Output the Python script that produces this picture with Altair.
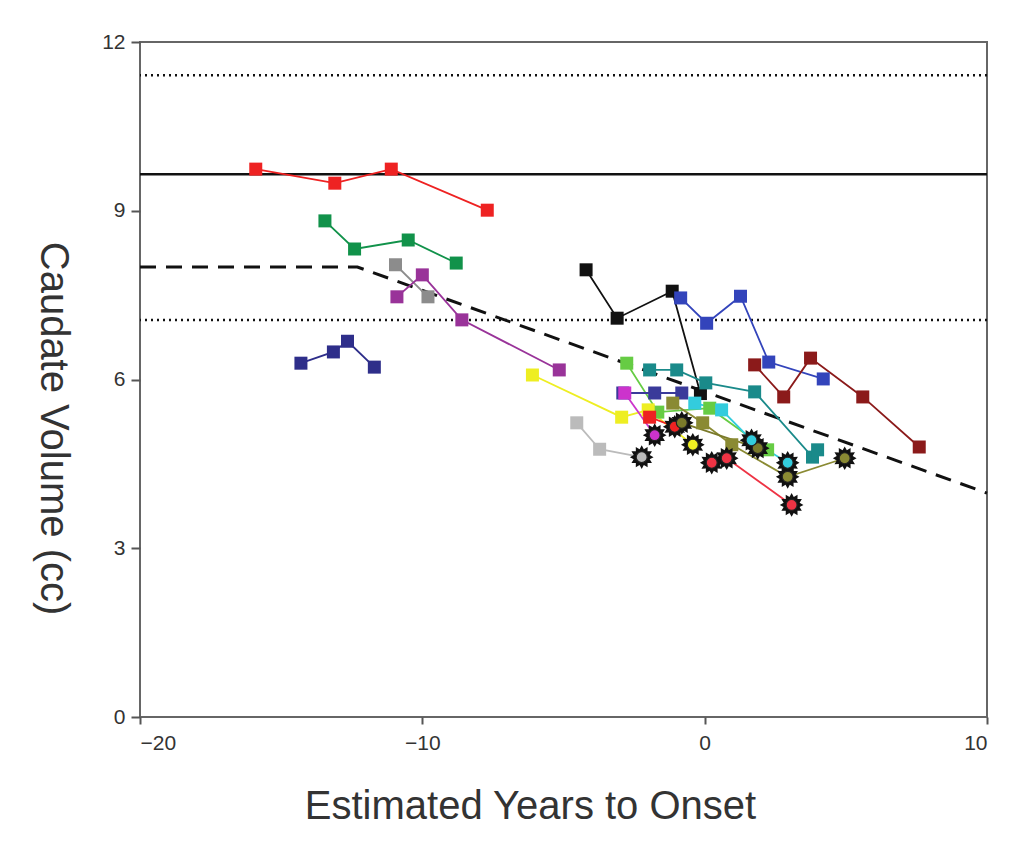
import math
import altair as alt
import pandas as pd

# ---------------- data ----------------
series_names = ["red_top", "green", "gray_dark", "purple", "navy", "black", "blue",
                "maroon", "teal", "lightgreen", "yellow", "lightgray", "navy2",
                "magenta", "red_a", "olive", "olive2", "cyan", "red_b"]
series_colors = ["#EE2222", "#11924A", "#8C8C8C", "#993399", "#2E2E8A", "#111111", "#3344BB",
                 "#8B1A1A", "#1A8A8A", "#66CC44", "#EEEE22", "#BBBBBB", "#3A3A9A",
                 "#CC33CC", "#EE2222", "#8A8A33", "#7A7A2A", "#33CCDD", "#EE3344"]
series_x = [
    [-15.9, -13.1, -11.1, -7.7],
    [-13.45, -12.4, -10.5, -8.8],
    [-10.95, -9.8],
    [-10.9, -10.0, -8.6, -5.15],
    [-14.3, -13.15, -12.65, -11.7],
    [-4.2, -3.1, -1.15, -0.15],
    [-0.85, 0.07, 1.27, 2.27, 4.2],
    [1.77, 2.8, 3.75, 5.6, 7.6],
    [-1.95, -0.99, 0.04, 1.77, 3.82, 4.0],
    [-2.76, -1.66, 0.18, 2.23],
    [-6.1, -2.94, -2.0, -0.42],
    [-4.53, -3.72, -2.23],
    [-2.9, -1.77, -0.81],
    [-2.83, -1.77],
    [-1.95, -1.06],
    [-1.13, -0.07, 0.96, 2.94, 4.96],
    [-0.81, 1.88],
    [-0.35, 0.6, 1.66, 2.94],
    [0.25, 0.78, 3.08],
]
series_y = [
    [9.74, 9.49, 9.74, 9.01],
    [8.82, 8.32, 8.48, 8.07],
    [8.04, 7.47],
    [7.47, 7.86, 7.06, 6.17],
    [6.29, 6.49, 6.68, 6.22],
    [7.95, 7.09, 7.57, 5.75],
    [7.45, 7.0, 7.48, 6.31, 6.01],
    [6.26, 5.69, 6.38, 5.69, 4.8],
    [6.17, 6.17, 5.94, 5.78, 4.62, 4.75],
    [6.29, 5.42, 5.49, 4.75],
    [6.08, 5.33, 5.46, 4.84],
    [5.23, 4.76, 4.62],
    [5.76, 5.76, 5.76],
    [5.76, 5.01],
    [5.33, 5.16],
    [5.58, 5.23, 4.84, 4.27, 4.6],
    [5.23, 4.78],
    [5.58, 5.46, 4.92, 4.52],
    [4.52, 4.6, 3.77],
]
# "s" = square visit, "*" = star (converted) visit
series_kind = [
    "ssss", "ssss", "ss", "ssss", "ssss", "ssss", "sssss", "sssss", "ssssss",
    "ssss", "sss*", "ss*", "sss", "s*", "s*", "sss**", "**", "ss**", "***",
]

solid_ref = [9.65]
dotted_ref = [11.41, 7.06]
fit_x = [-20, -12.3, 10]
fit_y = [8.0, 8.0, 3.98]

x_ticks = [-20, -10, 0, 10]
y_ticks = [0, 3, 6, 9, 12]

# ---------------- tables ----------------
rows = []
for name, xs, ys, kinds in zip(series_names, series_x, series_y, series_kind):
    for i, (xv, yv, k) in enumerate(zip(xs, ys, kinds)):
        rows.append({"series": name, "x": xv, "y": yv, "kind": k, "order": i})
df = pd.DataFrame(rows)
df_solid = pd.DataFrame({"y": solid_ref})
df_dotted = pd.DataFrame({"y": dotted_ref})
df_fit = pd.DataFrame({"x": fit_x, "y": fit_y, "order": list(range(len(fit_x)))})

# star-like marker path
n = 12
pts = []
for i in range(2 * n):
    r = 1.0 if i % 2 == 0 else 0.7
    a = math.pi * i / n - math.pi / 2
    pts.append(f"{r * math.cos(a):.3f},{r * math.sin(a):.3f}")
star_path = "M" + "L".join(pts) + "Z"

FONT = "Liberation Sans, Arial, Helvetica, sans-serif"

X = alt.X("x:Q",
          scale=alt.Scale(domain=[-20, 10], nice=False, zero=False),
          axis=alt.Axis(values=x_ticks, format="d", grid=False, domain=False,
                        tickColor="#555", tickWidth=2, tickSize=7,
                        labelFont=FONT, labelFontSize=21, labelColor="#333", labelPadding=8,
                        title="Estimated Years to Onset", titleFont=FONT, titleFontSize=40,
                        titleFontWeight="normal", titleColor="#333",
                        titleX=390, titleY=101, titleBaseline="alphabetic", titleAlign="center"))
Y = alt.Y("y:Q",
          scale=alt.Scale(domain=[0, 12], nice=False, zero=False),
          axis=alt.Axis(values=y_ticks, format="d", grid=False, domain=False,
                        tickColor="#555", tickWidth=2, tickSize=9,
                        labelFont=FONT, labelFontSize=21, labelColor="#333", labelPadding=6,
                        title="Caudate Volume (cc)", titleFont=FONT, titleFontSize=40,
                        titleFontWeight="normal", titleColor="#333", titleAngle=90,
                        titleX=-100, titleY=386, titleBaseline="alphabetic", titleAlign="center"))

color = alt.Color("series:N", scale=alt.Scale(domain=series_names, range=series_colors), legend=None)

solid = alt.Chart(df_solid).mark_rule(color="#111", strokeWidth=2.5).encode(y=Y)
dotted = alt.Chart(df_dotted).mark_rule(color="#111", strokeWidth=2.5, strokeDash=[2, 4]).encode(y=Y)
fit = alt.Chart(df_fit).mark_line(color="#111", strokeWidth=3, strokeDash=[16, 10]).encode(
    x=X, y=Y, order="order:Q")

lines = alt.Chart(df).mark_line(strokeWidth=1.8).encode(
    x=X, y=Y, color=color, detail="series:N", order="order:Q")
squares = alt.Chart(df).transform_filter(alt.datum.kind == "s").mark_point(
    shape="square", filled=True, size=169, opacity=1).encode(x=X, y=Y, color=color)
stars = alt.Chart(df).transform_filter(alt.datum.kind == "*").mark_point(
    shape=star_path, filled=True, size=560, opacity=1, color="#111").encode(x=X, y=Y)
centers = alt.Chart(df).transform_filter(alt.datum.kind == "*").mark_point(
    shape="circle", filled=True, size=120, opacity=1, stroke="#222", strokeWidth=1.2).encode(
    x=X, y=Y, color=color)

chart = alt.layer(solid, dotted, fit, lines, squares, stars, centers).properties(
    width=847, height=675,
    autosize=alt.AutoSizeParams(type="none"),
    padding={"left": 132, "top": 34, "right": 10, "bottom": 110},
    background="white",
).configure_view(stroke="#666", strokeWidth=2)

chart.save("out.html", embed_options={"renderer": "svg", "actions": False})
